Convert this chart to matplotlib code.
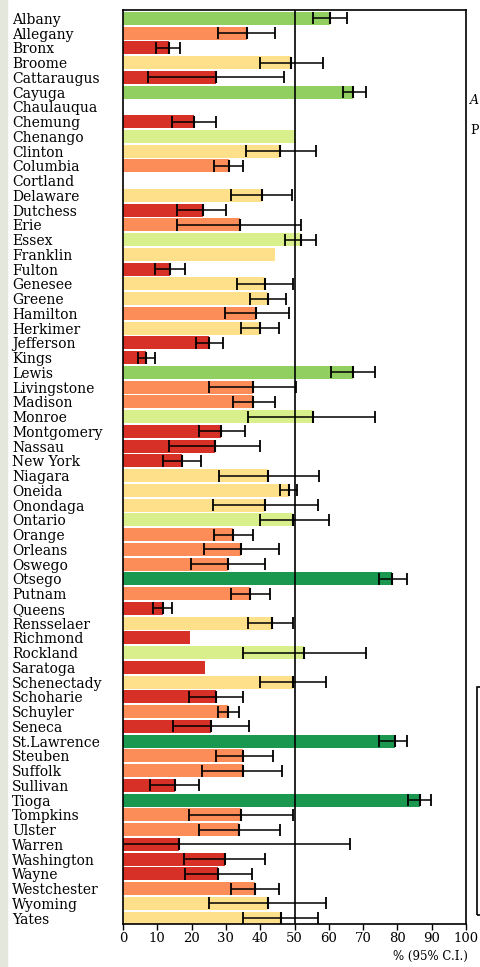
import matplotlib
matplotlib.use("Agg")
import matplotlib.pyplot as plt
import numpy as np
from matplotlib.patches import Rectangle

nan = np.nan

counties = ["Albany", "Allegany", "Bronx", "Broome", "Cattaraugus", "Cayuga",
            "Chaulauqua", "Chemung", "Chenango", "Clinton", "Columbia", "Cortland",
            "Delaware", "Dutchess", "Erie", "Essex", "Franklin", "Fulton",
            "Genesee", "Greene", "Hamilton", "Herkimer", "Jefferson", "Kings",
            "Lewis", "Livingstone", "Madison", "Monroe", "Montgomery", "Nassau",
            "New York", "Niagara", "Oneida", "Onondaga", "Ontario", "Orange",
            "Orleans", "Oswego", "Otsego", "Putnam", "Queens", "Rensselaer",
            "Richmond", "Rockland", "Saratoga", "Schenectady", "Schoharie",
            "Schuyler", "Seneca", "St.Lawrence", "Steuben", "Suffolk", "Sullivan",
            "Tioga", "Tompkins", "Ulster", "Warren", "Washington", "Wayne",
            "Westchester", "Wyoming", "Yates"]

# percent estimate, lower and upper 95% C.I.
pct = [60.3, 36.1, 13.3, 48.9, 27.2, 67.1,
       nan, 20.7, 50.4, 45.9, 31.0, nan,
       40.5, 23.2, 34.0, 51.8, 44.2, 13.8,
       41.4, 42.4, 38.9, 39.9, 25.2, 6.8,
       67.2, 38.0, 38.0, 55.3, 28.7, 26.7,
       17.2, 42.4, 48.4, 41.4, 49.7, 32.2,
       34.5, 30.5, 78.5, 37.1, 11.8, 43.5,
       19.4, 52.7, 23.8, 49.6, 27.2,
       30.6, 25.7, 79.2, 35.0, 35.0, 15.2,
       86.5, 34.4, 33.9, 16.2, 29.6, 27.7,
       38.5, 42.4, 46.0]
lo = [55.3, 27.7, 9.7, 39.9, 7.3, 64.2,
      nan, 14.3, nan, 36.0, 26.6, nan,
      31.5, 15.8, 15.7, 47.3, nan, 9.3,
      33.1, 37.1, 29.6, 34.4, 21.2, 4.3,
      60.7, 25.2, 32.1, 36.5, 22.2, 13.3,
      11.8, 28.1, 45.8, 26.1, 40.0, 26.6,
      23.6, 19.7, 74.6, 31.6, 8.8, 36.5,
      nan, 35.0, nan, 40.0, 19.3,
      27.6, 14.7, 74.5, 27.2, 23.1, 7.9,
      83.0, 19.3, 22.2, 0.0, 17.7, 18.2,
      31.5, 25.1, 35.1]
hi = [65.2, 44.4, 16.6, 58.2, 46.9, 70.7,
      nan, 27.1, nan, 56.2, 35.1, nan,
      49.4, 30.1, 51.8, 56.2, nan, 18.2,
      49.6, 47.4, 48.4, 45.5, 29.2, 9.2,
      73.6, 50.3, 44.4, 73.6, 35.6, 40.0,
      22.7, 57.2, 50.8, 56.9, 60.2, 38.0,
      45.4, 41.4, 82.8, 42.9, 14.3, 49.6,
      nan, 70.7, nan, 59.2, 35.1,
      33.9, 36.6, 82.9, 43.6, 46.5, 22.2,
      89.9, 49.6, 45.9, 66.1, 41.5, 37.5,
      45.4, 59.2, 56.9]
# colour class 0 (red) .. 5 (dark green)
cls = [4, 1, 0, 2, 0, 4,
       0, 0, 3, 2, 1, 0,
       2, 0, 1, 3, 2, 0,
       2, 2, 1, 2, 0, 0,
       4, 1, 1, 3, 0, 0,
       0, 2, 2, 2, 3, 1,
       1, 1, 5, 1, 0, 2,
       0, 3, 0, 2, 0,
       1, 0, 5, 1, 1, 0,
       5, 1, 1, 0, 0, 0,
       1, 2, 2]

palette = ["#d73027", "#fc8d59", "#fee08b", "#d9ef8b", "#91cf60", "#1a9850"]

pct = np.array(pct)
lo = np.array(lo)
hi = np.array(hi)
y = np.arange(len(counties))
colors = [palette[c] for c in cls]

fig = plt.figure(figsize=(4.8, 9.67), dpi=100)
fig.patches.append(Rectangle((0, 0), 7 / 480, 1, transform=fig.transFigure,
                             color="#e3e7dc", zorder=0))

ax = fig.add_axes([123 / 480, 1 - 924 / 967, (466 - 123) / 480, (924 - 10) / 967])

ax.barh(y, np.nan_to_num(pct), height=0.88, color=colors, zorder=2)
ax.axvline(50, color="black", lw=1.2, zorder=3)

ok = ~np.isnan(lo)
ax.errorbar(pct[ok], y[ok], xerr=[pct[ok] - lo[ok], hi[ok] - pct[ok]],
            fmt="none", ecolor="black", elinewidth=1.1, capsize=4.5,
            capthick=1.3, zorder=4)
ax.plot(pct[ok], y[ok], ls="none", marker="|", ms=9, mew=1.5,
        color="black", zorder=4)

ax.set_xlim(0, 100)
ax.set_ylim(len(counties) - 1 + 0.39, -0.56)
ax.set_xticks(np.arange(0, 101, 10))
ax.tick_params(axis="x", direction="out", length=4, width=1, pad=2,
               labelsize=9.5)
for t in ax.get_xticklabels():
    t.set_fontfamily("DejaVu Serif")
ax.set_yticks(y)
ax.set_yticklabels(counties, fontfamily="DejaVu Serif", fontsize=10, ha="left")
ax.tick_params(axis="y", length=0, pad=80)
for s in ax.spines.values():
    s.set_linewidth(1.2)

fig.text(468 / 480, 1 - 956 / 967, "% (95% C.I.)", ha="right", va="center",
         fontsize=8.5, fontfamily="DejaVu Serif")

# neighbours showing at the right edge
fig.text(470 / 480, 1 - 100 / 967, "A", fontsize=9, style="italic",
         fontfamily="DejaVu Serif", va="center")
fig.text(470 / 480, 1 - 131 / 967, "P", fontsize=9,
         fontfamily="DejaVu Serif", va="center")
fig.patches.append(Rectangle((477 / 480, 1 - 915 / 967), 0.1, (915 - 687) / 967,
                             transform=fig.transFigure, fill=False,
                             edgecolor="black", lw=1.2))

fig.savefig("out.png", dpi=100)
